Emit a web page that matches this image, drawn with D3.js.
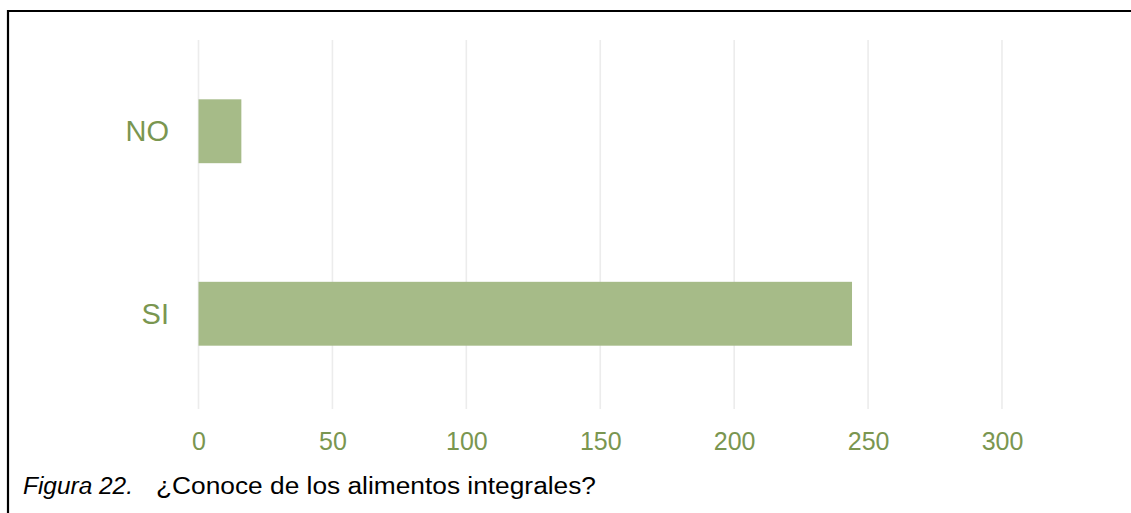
<!DOCTYPE html>
<html>
<head>
<meta charset="utf-8">
<script src="https://cdn.jsdelivr.net/npm/d3@7"></script>
<style>
  html, body { margin: 0; padding: 0; background: #ffffff; }
  svg { display: block; }
  text { font-family: "Liberation Sans", Arial, sans-serif; }
</style>
</head>
<body>
<script>
// Survey answers: "¿Conoce de los alimentos integrales?"
const categories = ["NO", "SI"];
const counts = [16, 244];
const xTicks = [0, 50, 100, 150, 200, 250, 300];
const captionLabel = "Figura 22.";
const captionText = "¿Conoce de los alimentos integrales?";

const W = 1131, H = 513;
const svg = d3.select("body").append("svg").attr("width", W).attr("height", H);

// frame line on the left and top edges
svg.append("path")
  .attr("d", `M8,${H} V11 H${W}`)
  .attr("fill", "none")
  .attr("stroke", "#000")
  .attr("stroke-width", 2.2);

const plot = { left: 198.5, right: 1002, top: 40, bottom: 405 };

const x = d3.scaleLinear().domain([0, 300]).range([plot.left, plot.right]);
const y = d3.scaleBand().domain(categories).range([plot.top, plot.bottom])
  .paddingInner(0.65).paddingOuter(0.325);

const green = "#7a9650";

// vertical gridlines
svg.append("g")
  .selectAll("line")
  .data(xTicks)
  .join("line")
  .attr("x1", d => x(d)).attr("x2", d => x(d))
  .attr("y1", plot.top).attr("y2", 409)
  .attr("stroke", "#ececec")
  .attr("stroke-width", 1.6);

// bars
svg.append("g")
  .selectAll("rect")
  .data(categories.map((c, i) => ({ c, v: counts[i] })))
  .join("rect")
  .attr("x", x(0))
  .attr("y", d => y(d.c))
  .attr("width", d => x(d.v) - x(0))
  .attr("height", y.bandwidth())
  .attr("fill", "#a6bb88");

// x axis labels
const xAxis = svg.append("g")
  .attr("transform", "translate(0,450)")
  .call(d3.axisBottom(x).tickValues(xTicks).tickSize(0).tickPadding(0));
xAxis.select(".domain").remove();
xAxis.selectAll("text")
  .attr("dy", 0)
  .attr("fill", green)
  .style("font-size", "25px")
  .style("font-family", "'Liberation Sans', Arial, sans-serif");

// category labels
const yAxis = svg.append("g")
  .attr("transform", "translate(169,0)")
  .call(d3.axisLeft(y).tickSize(0).tickPadding(0));
yAxis.select(".domain").remove();
yAxis.selectAll("text")
  .attr("dy", "0.35em")
  .attr("fill", green)
  .style("font-size", "29px")
  .style("font-family", "'Liberation Sans', Arial, sans-serif");

// caption
const cap = svg.append("text")
  .attr("y", 494)
  .attr("fill", "#000")
  .style("font-size", "23px");
cap.append("tspan")
  .attr("x", 23)
  .attr("textLength", 110)
  .attr("lengthAdjust", "spacingAndGlyphs")
  .style("font-style", "italic")
  .text(captionLabel);
cap.append("tspan")
  .attr("x", 156)
  .attr("textLength", 440)
  .attr("lengthAdjust", "spacingAndGlyphs")
  .text(captionText);
</script>
</body>
</html>
